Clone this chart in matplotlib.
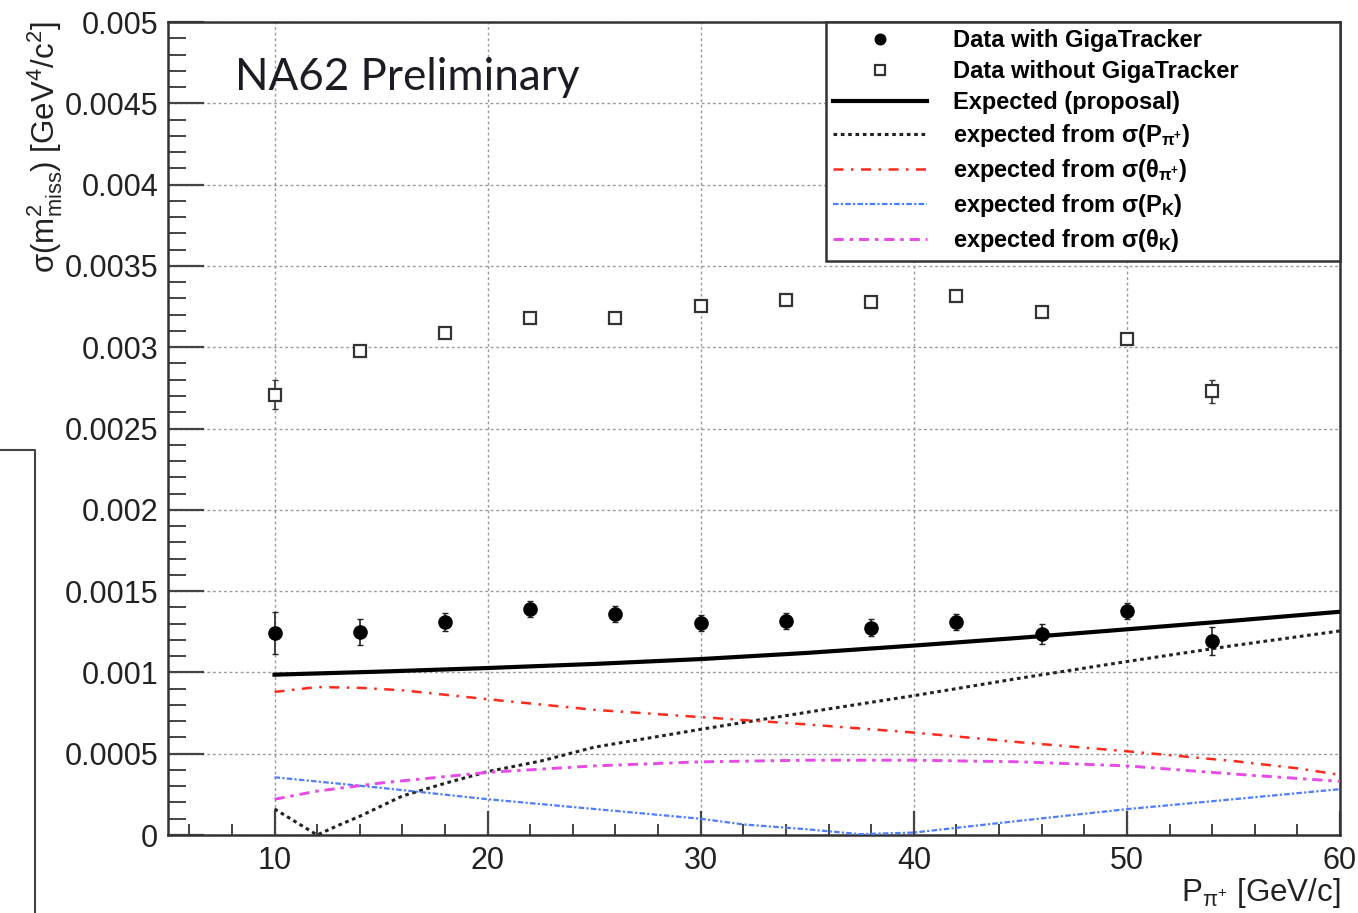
import matplotlib
matplotlib.use("Agg")
import matplotlib.pyplot as plt
from matplotlib.lines import Line2D
from matplotlib.ticker import MultipleLocator, FuncFormatter
import numpy as np

# momentum bins of the measurement [GeV/c]
p_data = [10, 14, 18, 22, 26, 30, 34, 38, 42, 46, 50, 54]

# sigma(m2_miss) in units of 1e-3 GeV^4/c^2
sig_with = [1.241, 1.247, 1.312, 1.388, 1.359, 1.302, 1.318, 1.276, 1.312, 1.237, 1.378, 1.194]
err_with = [0.13, 0.08, 0.055, 0.05, 0.05, 0.05, 0.05, 0.05, 0.05, 0.06, 0.05, 0.085]
sig_without = [2.708, 2.979, 3.090, 3.181, 3.181, 3.256, 3.292, 3.275, 3.312, 3.219, 3.052, 2.729]
err_without = [0.09, 0.035, 0.03, 0.03, 0.03, 0.03, 0.03, 0.03, 0.03, 0.03, 0.03, 0.07]

# expected resolution curves (1e-3 GeV^4/c^2)
p_prop = [10, 15, 20, 25, 30, 35, 40, 45, 50, 55, 60]
sig_prop = [0.986, 1.005, 1.027, 1.052, 1.082, 1.12, 1.165, 1.213, 1.265, 1.318, 1.373]

p_ppi = [10, 11, 12, 13, 14, 16, 18, 20, 22.5, 25, 30, 35, 40, 45, 50, 55, 60]
sig_ppi = [0.16, 0.08, 0.0, 0.06, 0.115, 0.24, 0.318, 0.39, 0.455, 0.54, 0.65, 0.755,
           0.857, 0.965, 1.067, 1.165, 1.255]

p_thpi = [10, 12, 14, 16, 20, 25, 30, 35, 40, 45, 50, 55, 58, 60]
sig_thpi = [0.88, 0.91, 0.905, 0.89, 0.835, 0.77, 0.725, 0.68, 0.63, 0.57, 0.515, 0.455, 0.41, 0.37]

p_pk = [10, 15, 20, 25, 30, 32, 35, 37.5, 40, 45, 50, 55, 60]
sig_pk = [0.355, 0.29, 0.22, 0.16, 0.10, 0.065, 0.035, 0.005, 0.015, 0.088, 0.159, 0.22, 0.282]

p_thk = [10, 12, 15, 20, 25, 30, 35, 40, 45, 50, 55, 60]
sig_thk = [0.22, 0.27, 0.32, 0.385, 0.425, 0.45, 0.46, 0.46, 0.45, 0.425, 0.375, 0.33]

plt.rcParams["font.family"] = ["Liberation Sans", "DejaVu Sans"]
plt.rcParams["mathtext.fontset"] = "custom"
plt.rcParams["mathtext.rm"] = "Liberation Sans"
plt.rcParams["mathtext.it"] = "Liberation Sans:italic"
plt.rcParams["mathtext.bf"] = "Liberation Sans:bold"
plt.rcParams["mathtext.default"] = "regular"

S = 1e-3

fig = plt.figure(figsize=(13.58, 9.13), dpi=100)
ax = fig.add_axes([168 / 1358, 78 / 913, 1172 / 1358, 813 / 913])

ax.errorbar(p_data, np.array(sig_without) * S, yerr=np.array(err_without) * S,
            fmt="none", ecolor="#333333", elinewidth=1.2, capsize=2.5, zorder=4)
ax.plot(p_data, np.array(sig_without) * S, "s", ms=8.5, mfc="white", mec="#333333",
        mew=1.6, ls="none", zorder=5, label="Data without GigaTracker")

ax.errorbar(p_data, np.array(sig_with) * S, yerr=np.array(err_with) * S,
            fmt="none", ecolor="#222222", elinewidth=1.2, capsize=2.5, zorder=4)
ax.plot(p_data, np.array(sig_with) * S, "o", ms=9.5, color="black", ls="none",
        zorder=5, label="Data with GigaTracker")

ax.plot(p_prop, np.array(sig_prop) * S, color="black", lw=3, zorder=3,
        label="Expected (proposal)")
ax.plot(p_ppi, np.array(sig_ppi) * S, color="#222222", lw=2.2, ls=(0, (1.2, 1.2)),
        zorder=3, label=r"expected from $\sigma$(P$_{\pi^{+}}$)")
ax.plot(p_thpi, np.array(sig_thpi) * S, color="#ff2a1a", lw=1.8, ls=(0, (4, 3, 1, 3)),
        zorder=3, label=r"expected from $\sigma$($\theta_{\pi^{+}}$)")
ax.plot(p_pk, np.array(sig_pk) * S, color="#4d7dff", lw=1.6, ls=(0, (2.5, 1, 1, 1)),
        zorder=3, label=r"expected from $\sigma$(P$_{K}$)")
ax.plot(p_thk, np.array(sig_thk) * S, color="#e84ae8", lw=2.1, ls=(0, (3.5, 2, 1.2, 2)),
        zorder=3, label=r"expected from $\sigma$($\theta_{K}$)")

ax.set_xlim(5, 60)
ax.set_ylim(0, 0.005)

ax.xaxis.set_major_locator(MultipleLocator(10))
ax.xaxis.set_minor_locator(MultipleLocator(2))
ax.yaxis.set_major_locator(MultipleLocator(0.0005))
ax.yaxis.set_minor_locator(MultipleLocator(0.0001))
ax.yaxis.set_major_formatter(FuncFormatter(lambda v, pos: "%g" % round(v, 6)))

ax.tick_params(axis="both", which="both", direction="in", top=False, right=False,
               colors="#444444", labelcolor="#222222", labelsize=22)
ax.tick_params(axis="x", which="major", length=17, width=1.6, pad=8)
ax.tick_params(axis="x", which="minor", length=8, width=1.4)
ax.tick_params(axis="y", which="major", length=26, width=1.6, pad=7)
ax.tick_params(axis="y", which="minor", length=13, width=1.4)

for sp in ax.spines.values():
    sp.set_linewidth(1.8)
    sp.set_color("#333333")

ax.grid(True, which="major", color="#9a9a9a", lw=1.0, ls=(0, (2, 2)), zorder=0)

ax.set_xlabel(r"P$_{\pi^{+}}$ [GeV/c]", fontsize=22.5, loc="right", labelpad=0, color="#222222")
ax.set_ylabel(r"$\sigma$(m$^{2}_{miss}$) [GeV$^{4}$/c$^{2}$]", fontsize=22.5, loc="top",
              labelpad=0, color="#222222")

ax.text(0.057, 0.932, "NA62 Preliminary", transform=ax.transAxes, fontsize=31.7,
        family="Lato", color="#1c1c24", va="center", ha="left")

handles, labels = ax.get_legend_handles_labels()
order = [1, 0, 2, 3, 4, 5, 6]
leg = ax.legend([handles[i] for i in order], [labels[i] for i in order],
                loc="upper left", bbox_to_anchor=(0.5614, 0.7097, 0.4386, 0.2903),
                mode="expand", borderaxespad=0, fancybox=False, framealpha=1,
                edgecolor="#333333", prop={"weight": "bold", "size": 17},
                handlelength=4.0, handletextpad=1.1, labelspacing=0.34,
                borderpad=0.3, markerscale=0.8)
leg.get_frame().set_linewidth(1.8)

# slide remnants around the plot
fig.add_artist(Line2D([0, 35 / 1358, 35 / 1358], [1 - 450 / 913, 1 - 450 / 913, 0],
                      transform=fig.transFigure, color="#444444", lw=1.5))

fig.savefig("out.png", dpi=100)
